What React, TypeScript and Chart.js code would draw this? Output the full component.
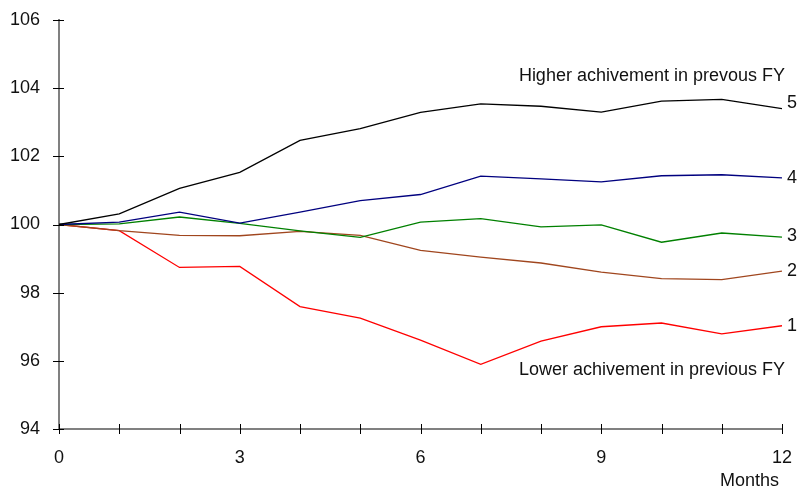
import React, { useEffect, useRef } from "react";
import { Chart, registerables } from "chart.js";

Chart.register(...registerables);

const months = [0, 1, 2, 3, 4, 5, 6, 7, 8, 9, 10, 11, 12];
const series5 = [100, 100.31, 101.06, 101.53, 102.47, 102.81, 103.29, 103.54, 103.47, 103.3, 103.62, 103.67, 103.4];
const series4 = [100, 100.07, 100.36, 100.04, 100.36, 100.7, 100.88, 101.42, 101.34, 101.25, 101.43, 101.46, 101.37];
const series3 = [100, 100.02, 100.22, 100.03, 99.81, 99.62, 100.07, 100.17, 99.93, 99.99, 99.48, 99.75, 99.63];
const series2 = [100, 99.82, 99.68, 99.67, 99.8, 99.68, 99.24, 99.04, 98.87, 98.6, 98.41, 98.38, 98.63];
const series1 = [100, 99.82, 98.74, 98.77, 97.59, 97.25, 96.61, 95.9, 96.58, 97.0, 97.11, 96.79, 97.03];

const seriesNames = ["5", "4", "3", "2", "1"];
const seriesColors = ["#000000", "#00007F", "#008000", "#A0461E", "#FF0000"];
const seriesData = [series5, series4, series3, series2, series1];
const labelDy = [-6, 0, -1, 0, 0];

const xTickLabels = [0, 3, 6, 9, 12];
const yMin = 94;
const yMax = 106;
const yStep = 2;

const higherText = "Higher achivement in prevous FY";
const lowerText = "Lower achivement in previous FY";
const higherY = 104.35;
const lowerY = 95.73;
const xTitle = "Months";

const FONT = "'Liberation Sans', Arial, sans-serif";

const overlayPlugin = {
  id: "overlay",
  afterDraw(chart: any) {
    const ctx = chart.ctx;
    const xs = chart.scales.x;
    const ys = chart.scales.y;
    const area = chart.chartArea;
    ctx.save();
    ctx.strokeStyle = "#000";
    ctx.lineWidth = 1;
    xs.ticks.forEach((t: any) => {
      const px = Math.round(xs.getPixelForValue(t.value)) + 0.5;
      ctx.beginPath();
      ctx.moveTo(px, area.bottom - 5);
      ctx.lineTo(px, area.bottom + 5);
      ctx.stroke();
    });
    ys.ticks.forEach((t: any) => {
      const py = Math.round(ys.getPixelForValue(t.value)) + 0.5;
      ctx.beginPath();
      ctx.moveTo(area.left - 6, py);
      ctx.lineTo(area.left + 5, py);
      ctx.stroke();
    });
    ctx.font = `18px ${FONT}`;
    ctx.fillStyle = "#111";
    ctx.textAlign = "left";
    ctx.textBaseline = "middle";
    seriesData.forEach((d, i) => {
      const last = d.length - 1;
      const px = xs.getPixelForValue(months[last]);
      const py = ys.getPixelForValue(d[last]);
      ctx.fillText(seriesNames[i], px + 5, py + labelDy[i]);
    });
    ctx.textAlign = "right";
    ctx.fillText(higherText, area.right + 3, ys.getPixelForValue(higherY));
    ctx.fillText(lowerText, area.right + 3, ys.getPixelForValue(lowerY));
    ctx.textBaseline = "alphabetic";
    ctx.fillText(xTitle, area.right - 3, chart.height - 1);
    ctx.restore();
  },
};

export default function App() {
  const ref = useRef<HTMLCanvasElement>(null);
  useEffect(() => {
    const canvas = ref.current;
    if (!canvas) return;
    const hiddenGrid = (len: number) => ({
      display: true,
      drawOnChartArea: false,
      drawTicks: true,
      tickLength: len,
      color: "rgba(0,0,0,0)",
    });
    const chart = new Chart(canvas, {
      type: "line",
      data: {
        datasets: seriesData.map((d, i) => ({
          label: seriesNames[i],
          data: d.map((v, j) => ({ x: months[j], y: v })),
          borderColor: seriesColors[i],
          backgroundColor: seriesColors[i],
          borderWidth: 1.3,
          pointRadius: 0,
          tension: 0,
          fill: false,
        })),
      },
      options: {
        animation: false,
        responsive: false,
        devicePixelRatio: 1,
        layout: { padding: { top: 20, right: 21, left: 0, bottom: 0 } },
        plugins: { legend: { display: false }, tooltip: { enabled: false } },
        scales: {
          x: {
            type: "linear",
            min: 0,
            max: 12,
            afterBuildTicks: (scale: any) => {
              scale.ticks = months.map((m) => ({ value: m }));
            },
            afterFit: (scale: any) => {
              scale.height = 58;
            },
            ticks: {
              autoSkip: false,
              maxRotation: 0,
              padding: 0,
              font: { size: 18, family: FONT },
              color: "#111",
              callback: (v: any) => (xTickLabels.includes(Number(v)) ? String(v) : ""),
            },
            grid: hiddenGrid(18),
            border: { display: true, color: "#808080", width: 2 },
          },
          y: {
            type: "linear",
            min: yMin,
            max: yMax,
            afterFit: (scale: any) => {
              scale.width = 59;
            },
            ticks: {
              stepSize: yStep,
              padding: 0,
              font: { size: 18, family: FONT },
              color: "#111",
            },
            grid: hiddenGrid(19),
            border: { display: true, color: "#808080", width: 2 },
          },
        },
      },
      plugins: [overlayPlugin],
    });
    return () => chart.destroy();
  }, []);
  return (
    <div style={{ position: "absolute", left: 0, top: 0, width: 803, height: 487, background: "#fff" }}>
      <canvas ref={ref} width={803} height={487} style={{ display: "block" }} />
    </div>
  );
}
